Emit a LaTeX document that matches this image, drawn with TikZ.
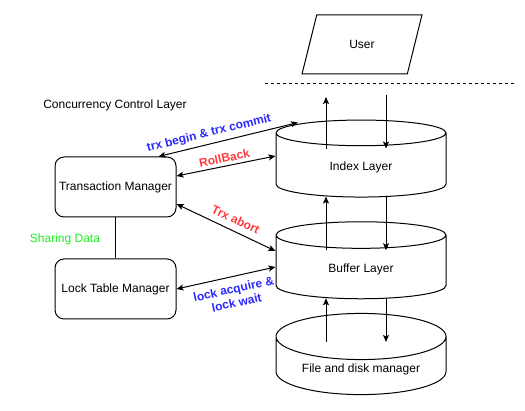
\documentclass[tikz,border=0pt]{standalone}
\usepackage{fontspec}
\setmainfont{Liberation Sans}
\usepackage{xcolor}
\usetikzlibrary{arrows.meta,shapes.geometric,calc}

\definecolor{tagblue}{RGB}{40,40,255}
\definecolor{tagred}{RGB}{255,60,60}
\definecolor{sharegreen}{RGB}{30,240,30}

\begin{document}
\begin{tikzpicture}[x=1pt,y=-1pt,line width=1pt,
  >={Stealth[length=7pt,width=6pt,inset=1.5pt]},
  font=\fontsize{12}{14}\selectfont,
  box/.style={draw,rounded corners=9pt,minimum width=121pt,minimum height=60pt},
  drum/.style={draw,cylinder,shape border rotate=90,aspect=0.37,
    minimum width=170pt,minimum height=77pt},
  tag/.style={font=\fontsize{12}{14}\selectfont\bfseries,sloped}]
\useasboundingbox (0,0) rectangle (525,411);

% User and storage layers
\node[draw,trapezium,trapezium left angle=71,trapezium right angle=109,
  trapezium stretches=true,minimum width=120pt,minimum height=59pt] (user) at (362,44.5) {User};
\draw[dash pattern=on 3pt off 3pt] (265,84) -- (515,84);
\node[drum] (idx) at (361,167) {Index Layer};
\node[drum] (buf) at (361,269) {Buffer Layer};
\node[drum] (fdm) at (361,369) {File and disk manager};

% Concurrency control
\node (ccl) at (115,105) {Concurrency Control Layer};
\node[box] (tm) at (115.5,187) {Transaction Manager};
\node[box] (ltm) at (115.5,289) {Lock Table Manager};
\draw[line width=1.6pt] (tm) -- (ltm);
\node[text=sharegreen] (share) at (65,239) {Sharing Data};

% Up and down between layers
\coordinate (up1) at (326,97);
\coordinate (dn1) at (386,95);
\draw[->] ([xshift=-35pt,yshift=-29pt]idx.north) -- (up1);
\draw[->] (dn1) -- ([xshift=25pt,yshift=-29pt]idx.north);
\foreach \a/\b in {idx/buf,buf/fdm} {
  \draw[->] ([xshift=-35pt,yshift=-29pt]\b.north) -- ([xshift=-35pt,yshift=1pt]\a.south);
  \draw[->] ([xshift=25pt,yshift=1pt]\a.south) -- ([xshift=25pt,yshift=-29pt]\b.north);
}

% Managers to layers
\draw[<->] ([xshift=-18pt]tm.north east) -- ([xshift=-63pt,yshift=-3pt]idx.north)
  node[tag,pos=0.38,above=1pt,text=tagblue] {trx begin \& trx commit};
\draw[<->] ([yshift=11pt]tm.east) -- ([yshift=11pt]idx.west)
  node[tag,midway,above,text=tagred] {RollBack};
\draw[<->] ([yshift=-17pt]tm.east) -- ([yshift=18pt]buf.west)
  node[tag,pos=0.55,above=3pt,text=tagred] {Trx abort};
\draw[<->] (ltm.east) -- ([yshift=2pt]buf.west)
  node[tag,pos=0.55,below=4pt,text=tagblue,align=center] {lock acquire \&\\lock wait};
\end{tikzpicture}
\end{document}
